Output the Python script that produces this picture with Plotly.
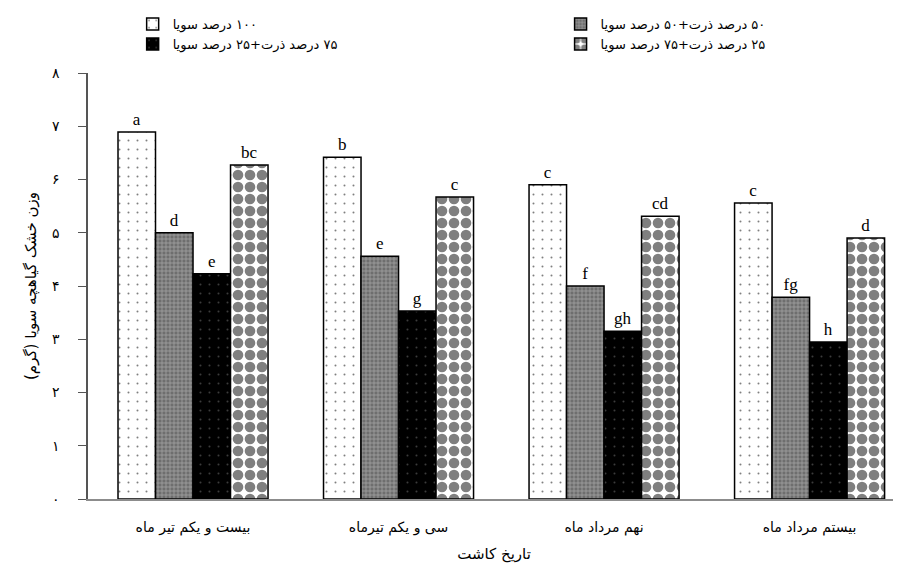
import plotly.graph_objects as go

# planting dates (x categories)
dates = ["بیست و یکم تیر ماه", "سی و یکم تیرماه", "نهم مرداد ماه", "بیستم مرداد ماه"]

# treatments
names = [
    "۱۰۰ درصد سویا",
    "۵۰ درصد ذرت+۵۰ درصد سویا",
    "۷۵ درصد ذرت+۲۵ درصد سویا",
    "۲۵ درصد ذرت+۷۵ درصد سویا",
]

# seedling dry weight (g)
soy100 = [6.89, 6.42, 5.90, 5.56]
corn50 = [5.00, 4.56, 4.00, 3.79]
corn75 = [4.23, 3.53, 3.15, 2.95]
corn25 = [6.27, 5.67, 5.31, 4.90]

# mean comparison letters
let100 = ["a", "b", "c", "c"]
let50 = ["d", "e", "f", "fg"]
let75 = ["e", "g", "gh", "h"]
let25 = ["bc", "c", "cd", "d"]

ytick_vals = [0, 1, 2, 3, 4, 5, 6, 7, 8]
ytick_text = ["۰", "۱", "۲", "۳", "۴", "۵", "۶", "۷", "۸"]


def rtl(s):
    return "\u202B" + s + "\u202C"


fa_font = "DejaVu Sans"
serif = "Liberation Serif"

patterns = [
    dict(shape=".", fgcolor="black", bgcolor="white", size=9, solidity=0.04),
    dict(shape="+", fgcolor="#d8d8d8", bgcolor="#6e6e6e", size=4, solidity=0.35),
    dict(shape=".", fgcolor="#777777", bgcolor="black", size=9, solidity=0.04),
    dict(shape=".", fgcolor="black", bgcolor="white", size=12, solidity=0.62),
]
values = [soy100, corn50, corn75, corn25]
letters = [let100, let50, let75, let25]
legends = ["legend", "legend2", "legend", "legend2"]

fig = go.Figure()
for k in range(4):
    fig.add_trace(go.Bar(
        x=dates, y=values[k], name=rtl(names[k]),
        text=letters[k], textposition="outside",
        textfont=dict(family=serif, size=17, color="black"),
        cliponaxis=False,
        marker=dict(color="white", pattern=patterns[k],
                    line=dict(color="black", width=1.5)),
        legend=legends[k],
    ))

fig.update_layout(
    width=901, height=571,
    margin=dict(l=80, r=9, t=65, b=80, autoexpand=False),
    plot_bgcolor="white", paper_bgcolor="white",
    barmode="group", bargap=0.27, bargroupgap=0,
    font=dict(family=fa_font, size=13, color="black"),
    legend=dict(x=0.055, y=1.15, xanchor="left", yanchor="top",
                bgcolor="rgba(0,0,0,0)", itemwidth=30,
                font=dict(family=fa_font, size=13, color="black")),
    legend2=dict(x=0.582, y=1.15, xanchor="left", yanchor="top",
                 bgcolor="rgba(0,0,0,0)", itemwidth=30,
                 font=dict(family=fa_font, size=13, color="black")),
)
fig.update_xaxes(
    range=[-0.511, 3.44], showline=True, linecolor="#8c8c8c", linewidth=2,
    ticks="", showgrid=False, automargin=False, ticklabelstandoff=14,
    tickfont=dict(family=fa_font, size=14, color="black"),
    title=dict(text="تاریخ کاشت", font=dict(family=fa_font, size=15), standoff=14),
)
fig.update_yaxes(
    range=[0, 8], tickvals=ytick_vals, ticktext=ytick_text,
    showline=True, linecolor="#555555", linewidth=1.5,
    ticks="outside", ticklen=8, tickcolor="#555555", showgrid=False, zeroline=False,
    automargin=False, ticklabelstandoff=16,
    tickfont=dict(family=fa_font, size=14, color="black"),
    title=dict(text=rtl("وزن خشک گیاهچه سویا (گرم)"), font=dict(family=fa_font, size=15), standoff=12),
)

fig.write_html("out.html")
